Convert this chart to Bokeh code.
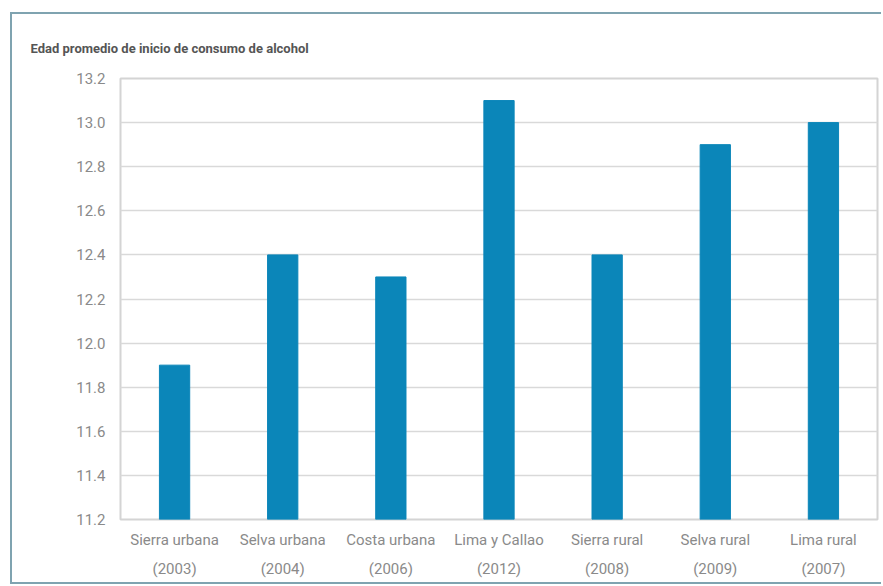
from bokeh.plotting import figure
from bokeh.models import CategoricalAxis, Range1d, FixedTicker, NumeralTickFormatter, CustomJSTickFormatter
from bokeh.embed import file_html
from bokeh.resources import INLINE

categories = ["Sierra urbana", "Selva urbana", "Costa urbana", "Lima y Callao",
              "Sierra rural", "Selva rural", "Lima rural"]
years = ["(2003)", "(2004)", "(2006)", "(2012)", "(2008)", "(2009)", "(2007)"]
values = [11.9, 12.4, 12.3, 13.1, 12.4, 12.9, 13.0]
y_ticks = [11.2, 11.4, 11.6, 11.8, 12.0, 12.2, 12.4, 12.6, 12.8, 13.0, 13.2]

FONT = "Roboto"
BAR = "#0b86b9"
TICK = "#8a8a8a"

p = figure(x_range=categories, y_range=Range1d(11.2, 13.2),
           width=871, height=572, output_backend="svg", toolbar_location=None,
           min_border_left=108, min_border_right=6, min_border_top=64, min_border_bottom=67)
p.styles = {"margin-left": "10px", "margin-top": "12px",
            "border-left": "2px solid #7fa3b0", "border-top": "2px solid #7fa3b0",
            "border-bottom": "2px solid #7fa3b0"}

p.vbar(x=categories, top=values, bottom=11.2, width=0.28, color=BAR)

p.title.text = "Edad promedio de inicio de consumo de alcohol"
p.title.text_font = "Roboto"
p.title.text_font_size = "13px"
p.title.text_color = "#555555"
p.title.text_font_style = "bold"
p.title.align = "left"
p.title.offset = -90
p.title.standoff = 45

p.outline_line_color = "#d4d4d4"
p.outline_line_width = 2
p.xgrid.grid_line_color = None
p.ygrid.grid_line_color = "#d9d9d9"
p.ygrid.grid_line_width = 1.5

p.yaxis.ticker = FixedTicker(ticks=y_ticks)
p.yaxis.formatter = NumeralTickFormatter(format="0.0")
p.yaxis.axis_line_color = None
p.yaxis.major_tick_line_color = None
p.yaxis.minor_tick_line_color = None
p.yaxis.major_label_text_font = FONT
p.yaxis.major_label_text_font_size = "15px"
p.yaxis.major_label_text_color = TICK
p.yaxis.major_label_standoff = 9

p.xaxis.axis_line_color = None
p.xaxis.major_tick_line_color = None
p.xaxis.major_label_text_font = FONT
p.xaxis.major_label_text_font_size = "15px"
p.xaxis.major_label_text_color = TICK
p.xaxis.major_label_standoff = 5

year_map = dict(zip(categories, years))
ax2 = CategoricalAxis(formatter=CustomJSTickFormatter(args=dict(m=year_map), code="return m[tick];"),
                      axis_line_color=None, major_tick_line_color=None,
                      major_label_text_font=FONT, major_label_text_font_size="15px",
                      major_label_text_color=TICK, major_label_standoff=2)
p.add_layout(ax2, "below")

open("out.html", "w").write(file_html(p, INLINE))
